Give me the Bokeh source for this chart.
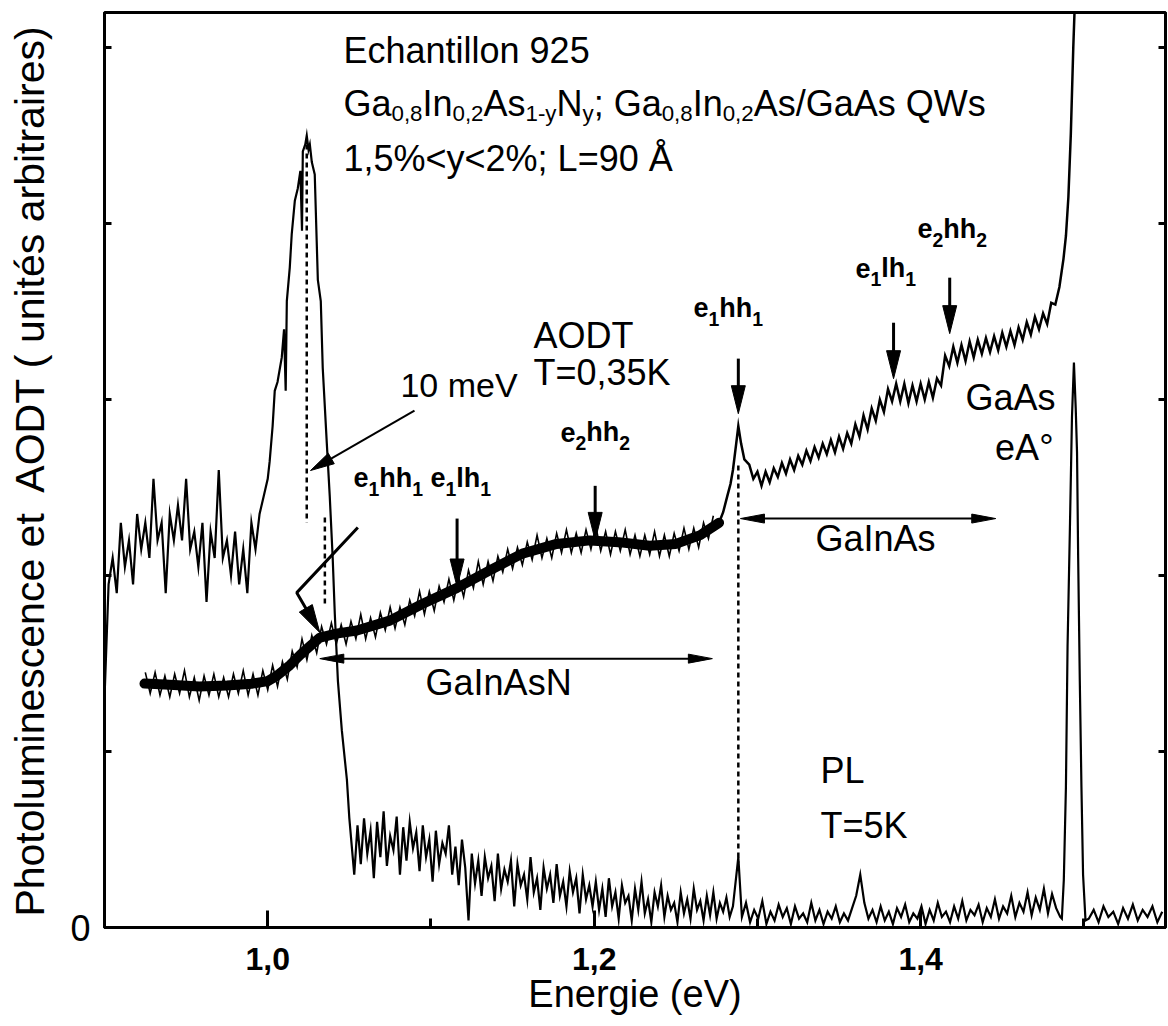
import math
from bokeh.plotting import figure
from bokeh.models import FixedTicker, LinearAxis, Label
from bokeh.embed import file_html
from bokeh.resources import INLINE

FONT = "Liberation Sans"

# ---------------- axes ----------------
x_ticks = [1.0, 1.2, 1.4]
x_minor_ticks = [0.9, 1.1, 1.3, 1.5]
x_tick_labels = ["1,0", "1,2", "1,4"]
y_ticks = [0, 1, 2, 3, 4, 5]
y_tick_labels = ["0", "", "", "", "", ""]
x_label = "Energie (eV)"
y_label = "Photoluminescence et\u00a0 AODT ( unités arbitraires)"

# ---------------- PL spectrum (T = 5 K) ----------------
pl_low_start, pl_low_step = 0.900, 0.0025
pl_low = [1.30, 1.95, 2.10, 1.90, 2.30, 2.05, 2.20, 1.95, 2.35, 2.15,
          2.30, 2.10, 2.55, 2.20, 2.30, 1.90, 2.35, 2.20, 2.40, 2.20,
          2.55, 2.15, 2.25, 2.05, 2.30, 1.85, 2.25, 2.10, 2.60, 2.10,
          2.20, 2.00, 2.25, 1.95, 2.15, 1.90, 2.30, 2.15, 2.35, 2.45]
pl_peak_E = [1.0000, 1.0012, 1.0030, 1.0043, 1.0060, 1.0086, 1.0100, 1.0110,
             1.0117, 1.0135, 1.0147, 1.0166, 1.0184, 1.0200, 1.0210, 1.0215,
             1.0230, 1.0239, 1.0250, 1.0258, 1.0270, 1.0288, 1.0300, 1.0307,
             1.0325, 1.0337, 1.0362, 1.0380, 1.0398, 1.0411, 1.0430, 1.0454,
             1.0485, 1.0500]
pl_peak_U = [2.55, 2.65, 2.85, 3.05, 3.10, 3.24, 3.40, 3.05,
             3.56, 3.75, 3.94, 4.13, 4.20, 4.30, 3.96, 4.41,
             4.45, 4.50, 4.42, 4.45, 4.35, 4.28, 3.90, 3.68,
             3.56, 3.18, 2.75, 2.45, 2.10, 1.78, 1.40, 1.12,
             0.84, 0.62]
pl_mid_start, pl_mid_step = 1.053, 0.002
pl_mid = [0.30, 0.58, 0.36, 0.62, 0.42, 0.55, 0.28, 0.60, 0.40, 0.66,
          0.35, 0.52, 0.44, 0.63, 0.30, 0.57, 0.38, 0.60, 0.45, 0.54,
          0.32, 0.58, 0.40, 0.50, 0.26, 0.55, 0.36, 0.48, 0.42, 0.58,
          0.30, 0.46, 0.24, 0.50, 0.34,
          0.04,
          0.42, 0.25, 0.38, 0.18, 0.40, 0.28, 0.35, 0.15, 0.42, 0.22,
          0.33, 0.26, 0.38, 0.12, 0.36, 0.24, 0.30, 0.16, 0.40, 0.20,
          0.28, 0.10, 0.34, 0.22, 0.30, 0.14, 0.36, 0.18, 0.26, 0.12,
          0.32, 0.20, 0.28, 0.08, 0.30, 0.16, 0.24, 0.12,
          0.26, 0.10, 0.22, 0.06, 0.28, 0.12, 0.20, 0.05, 0.24, 0.14,
          0.18, 0.04, 0.22, 0.10, 0.26, 0.08, 0.16, 0.03, 0.20, 0.12,
          0.24, 0.06, 0.18, 0.10, 0.14, 0.03, 0.20, 0.08, 0.16, 0.05,
          0.22, 0.10, 0.15, 0.04, 0.18, 0.07, 0.20, 0.05, 0.14, 0.09,
          0.17, 0.06,
          0.12]
pl_e1hh1_E = [1.2883]
pl_e1hh1_U = [0.40]
pl_high_start, pl_high_step = 1.2905, 0.0025
pl_high = [0.06, 0.14, 0.03, 0.10, 0.05, 0.15, 0.02, 0.09, 0.04, 0.13,
           0.06, 0.11, 0.02, 0.12, 0.05, 0.08, 0.03, 0.14, 0.04, 0.10,
           0.02, 0.09, 0.05, 0.12, 0.03, 0.08, 0.04, 0.11, 0.18, 0.30,
           0.14, 0.05, 0.10, 0.03, 0.12, 0.04, 0.09, 0.02, 0.11, 0.06,
           0.13, 0.03, 0.08, 0.05, 0.12, 0.02, 0.10, 0.04, 0.14, 0.06,
           0.09, 0.03, 0.12, 0.05, 0.15, 0.04, 0.10, 0.07, 0.13, 0.03,
           0.11, 0.06, 0.16, 0.05, 0.12, 0.08, 0.18, 0.06, 0.14, 0.09,
           0.20, 0.07, 0.17, 0.10, 0.22, 0.08, 0.19, 0.11, 0.06]
pl_gaas_E = [1.4865, 1.4877, 1.4890, 1.4900, 1.4915, 1.4927, 1.4939,
             1.4950, 1.4958, 1.4965, 1.4975, 1.4985, 1.4995, 1.5010]
pl_gaas_U = [0.05, 0.27, 0.80, 1.60, 2.30, 2.90, 3.21,
             2.95, 2.70, 2.10, 1.40, 0.80, 0.30, 0.04]
pl_tail_start, pl_tail_step = 1.503, 0.003
pl_tail = [0.05, 0.10, 0.03, 0.12, 0.06, 0.09, 0.02, 0.11,
           0.05, 0.13, 0.04, 0.10, 0.06, 0.12, 0.03, 0.09]

# ---------------- AODT spectrum (T = 0.35 K) ----------------
aodt_band_E = [0.9245, 0.940, 0.958, 0.975, 0.990, 1.000, 1.0055, 1.0135,
               1.020, 1.026, 1.032, 1.042, 1.0546, 1.0748, 1.095, 1.116,
               1.136, 1.156, 1.177, 1.1975, 1.215, 1.234, 1.250, 1.265, 1.2765]
aodt_band_U = [1.386, 1.38, 1.37, 1.375, 1.385, 1.40, 1.43, 1.49,
               1.55, 1.60, 1.648, 1.67, 1.688, 1.744, 1.84, 1.93,
               2.03, 2.125, 2.18, 2.20, 2.19, 2.17, 2.18, 2.23, 2.30]
aodt_hair_start, aodt_hair_step = 0.925, 0.003
aodt_hair = [1.45, 1.33, 1.45, 1.32, 1.43, 1.31, 1.44, 1.33, 1.46, 1.31,
             1.42, 1.29, 1.43, 1.32, 1.44, 1.31, 1.42, 1.31, 1.44, 1.33,
             1.46, 1.32, 1.44, 1.32, 1.46, 1.35, 1.49, 1.37, 1.51, 1.41,
             1.57, 1.48, 1.64, 1.52, 1.66, 1.56, 1.71, 1.61, 1.73, 1.61,
             1.72, 1.61, 1.74, 1.64, 1.78, 1.64, 1.76, 1.65, 1.79, 1.69,
             1.82, 1.70, 1.82, 1.72, 1.86, 1.77, 1.91, 1.78, 1.91, 1.80,
             1.94, 1.85, 1.98, 1.86, 1.99, 1.88, 2.03, 1.93, 2.08, 1.95,
             2.08, 1.97, 2.11, 2.02, 2.15, 2.04, 2.16, 2.06, 2.19, 2.09,
             2.23, 2.10, 2.21, 2.10, 2.24, 2.13, 2.26, 2.13, 2.24, 2.13,
             2.26, 2.15, 2.28, 2.14, 2.25, 2.12, 2.25, 2.14, 2.26, 2.12,
             2.23, 2.11, 2.23, 2.12, 2.25, 2.11, 2.23, 2.11, 2.24, 2.14,
             2.27, 2.15, 2.27, 2.16, 2.30, 2.21, 2.34]
aodt_peak_E = [1.2765, 1.2790, 1.2815, 1.2835, 1.2850, 1.2870, 1.2883,
               1.2900, 1.2920]
aodt_peak_U = [2.30, 2.36, 2.45, 2.52, 2.60, 2.75, 2.85, 2.75, 2.66]
aodt_zig_start, aodt_zig_step = 1.295, 0.0025
aodt_zig = [2.63, 2.55, 2.59, 2.51, 2.59, 2.53, 2.61, 2.56, 2.64, 2.58,
            2.66, 2.60, 2.68, 2.63, 2.71, 2.65, 2.73, 2.67, 2.75, 2.69,
            2.77, 2.70, 2.79, 2.72, 2.81, 2.75, 2.86, 2.79, 2.91, 2.83,
            2.95, 2.88, 3.00, 2.93, 3.06, 2.99, 3.09, 2.99, 3.09, 2.98,
            3.08, 2.99, 3.09, 3.00, 3.10, 3.01, 3.12, 3.08, 3.25, 3.19,
            3.30, 3.21, 3.31, 3.22, 3.33, 3.24, 3.34, 3.26, 3.35, 3.27,
            3.36, 3.28, 3.38, 3.30, 3.39, 3.31, 3.41, 3.34, 3.44, 3.37,
            3.47, 3.40, 3.49, 3.43, 3.55, 3.54, 3.64]
aodt_edge_E = [1.4875, 1.4890, 1.4905, 1.4920, 1.4935, 1.4950]
aodt_edge_U = [3.80, 3.93, 4.15, 4.51, 5.00, 5.40]

# transition energies marked by arrows
arrow_E = [1.116, 1.2006, 1.2883, 1.3834, 1.4178]


def grid(start, step, vals):
    return [round(start + i * step, 5) for i in range(len(vals))]


pl_E = (grid(pl_low_start, pl_low_step, pl_low) + pl_peak_E
        + grid(pl_mid_start, pl_mid_step, pl_mid) + pl_e1hh1_E
        + grid(pl_high_start, pl_high_step, pl_high) + pl_gaas_E
        + grid(pl_tail_start, pl_tail_step, pl_tail))
pl_U = pl_low + pl_peak_U + pl_mid + pl_e1hh1_U + pl_high + pl_gaas_U + pl_tail

aodt_thin_E = aodt_peak_E + grid(aodt_zig_start, aodt_zig_step, aodt_zig) + aodt_edge_E
aodt_thin_U = aodt_peak_U + aodt_zig + aodt_edge_U

# ---------------- figure ----------------
p = figure(width=1168, height=1026, x_range=(0.9, 1.55), y_range=(0, 5.2),
           output_backend="svg", toolbar_location=None,
           min_border_left=104, min_border_right=3, min_border_top=12,
           min_border_bottom=99)
p.grid.visible = False
p.outline_line_color = "black"
p.outline_line_width = 3
p.background_fill_color = "white"
p.border_fill_color = "white"

xa = p.xaxis[0]
xa.ticker = FixedTicker(ticks=x_ticks, minor_ticks=x_minor_ticks)
xa.major_label_overrides = dict(zip(x_ticks, x_tick_labels))
xa.major_tick_in = 17
xa.major_tick_out = 0
xa.minor_tick_in = 9
xa.minor_tick_out = 0
xa.major_tick_line_width = 3
xa.minor_tick_line_width = 3
xa.axis_line_width = 3
xa.major_label_text_font = FONT
xa.major_label_text_font_size = "32px"
xa.major_label_text_font_style = "bold"
xa.major_label_text_color = "black"
xa.major_label_standoff = 20
xa.axis_label = x_label
xa.axis_label_text_font = FONT
xa.axis_label_text_font_size = "38px"
xa.axis_label_text_font_style = "normal"
xa.axis_label_text_color = "black"
xa.axis_label_standoff = 0

ya = p.yaxis[0]
ya.ticker = FixedTicker(ticks=y_ticks)
ya.major_label_overrides = dict(zip(y_ticks, y_tick_labels))
ya.major_tick_in = 7
ya.major_tick_out = 0
ya.minor_tick_line_color = None
ya.major_tick_line_width = 3
ya.axis_line_width = 3
ya.major_label_text_font = FONT
ya.major_label_text_font_size = "36px"
ya.major_label_text_color = "black"
ya.major_label_standoff = 14
ya.axis_label = y_label
ya.axis_label_text_font = FONT
ya.axis_label_text_font_size = "41px"
ya.axis_label_text_font_style = "normal"
ya.axis_label_text_color = "black"
ya.axis_label_standoff = 14

ra = LinearAxis(ticker=FixedTicker(ticks=y_ticks),
                major_label_overrides={t: "" for t in y_ticks},
                major_label_text_font_size="1px", major_label_standoff=0,
                major_tick_in=7, major_tick_out=0, major_tick_line_width=3,
                minor_tick_line_color=None, axis_line_width=3)
p.add_layout(ra, "right")

# ---------------- curves ----------------
p.line(aodt_band_E, aodt_band_U, line_color="black", line_width=10,
       line_join="round", line_cap="round")
p.line(grid(aodt_hair_start, aodt_hair_step, aodt_hair), aodt_hair,
       line_color="black", line_width=1.6, line_join="miter")
p.line(aodt_thin_E, aodt_thin_U, line_color="black", line_width=2.5,
       line_join="miter")
p.line(pl_E, pl_U, line_color="black", line_width=2.2, line_join="miter")

# ---------------- annotation helpers ----------------
SX = 1061 / 0.65
SY = 915 / 5.2
head_xs, head_ys = [], []


def add_head(xt, yt, xf, yf, L, W):
    dx = (xt - xf) * SX
    dy = (yt - yf) * SY
    n = math.hypot(dx, dy)
    ux, uy = dx / n, dy / n
    bx, by = -ux * L, -uy * L
    qx, qy = -uy, ux
    pts = [(0, 0), (bx + qx * W / 2, by + qy * W / 2), (bx - qx * W / 2, by - qy * W / 2)]
    head_xs.append([xt + a / SX for a, b in pts])
    head_ys.append([yt + b / SY for a, b in pts])
    return xt - ux * L * 0.7 / SX, yt - uy * L * 0.7 / SY


def arrow(xf, yf, xt, yt, L=28, W=14, lw=3):
    ex, ey = add_head(xt, yt, xf, yf, L, W)
    p.line([xf, ex], [yf, ey], line_color="black", line_width=lw)


def double_arrow(x0, x1, y, L=24, W=9, lw=2):
    ex0, _ = add_head(x0, y, x1, y, L, W)
    ex1, _ = add_head(x1, y, x0, y, L, W)
    p.line([ex0, ex1], [y, y], line_color="black", line_width=lw)


# down arrows at transitions
arrow_tops = [2.324, 2.51, 3.233, 3.437, 3.693]
arrow_tips = [1.935, 2.20, 2.92, 3.119, 3.375]
for e, t, b in zip(arrow_E, arrow_tops, arrow_tips):
    arrow(e, t, e, b)

# bent arrow for e1hh1 (GaInAsN)
bx = [1.0552, 1.0178, 1.0319]
by = [2.273, 1.903, 1.676]
ex, ey = add_head(bx[2], by[2], bx[1], by[1], 28, 15)
p.line([bx[0], bx[1], ex], [by[0], by[1], ey], line_color="black", line_width=3)

# 10 meV arrow
arrow(1.0899, 2.938, 1.0262, 2.597, L=24, W=12, lw=2)

# double arrows
double_arrow(1.0319, 1.2724, 1.528)
double_arrow(1.2896, 1.446, 2.324)

p.patches(head_xs, head_ys, fill_color="black", line_color="black", line_width=1)

# dotted lines
for e, y0, y1 in [(1.0239, 4.45, 2.30), (1.035, 2.33, 1.82), (1.2883, 2.625, 0.37)]:
    p.line([e, e], [y0, y1], line_color="black", line_width=2.5, line_dash="5 4")

# ---------------- texts ----------------
REG = {'G': .778, 'a': .556, 'I': .278, 'n': .556, 'A': .667, 's': .5, 'N': .722,
       ';': .278, ' ': .278, '/': .278, 'Q': .778, 'W': .944, '0': .556, '1': .556,
       '2': .556, '8': .556, ',': .278, '-': .333, 'y': .5}
BOLD = {'e': .556, 'h': .611, 'l': .278, '1': .556, '2': .556}
LIFT = 15  # px


def tw(s, size, bold):
    t = BOLD if bold else REG
    return sum(t.get(c, .556) for c in s) * size


def label(x, y, text, size=36, bold=False, align="left", baseline="alphabetic",
          xo=0.0, yo=0.0):
    p.add_layout(Label(x=x, y=y, x_offset=xo, y_offset=yo + LIFT, text=text,
                       text_font=FONT, text_font_size=f"{size}px",
                       text_font_style="bold" if bold else "normal",
                       text_align=align, text_baseline=baseline,
                       text_color="black"))


def rich(x, y, parts, size, bold=False, sub_scale=0.62, drop=10):
    off = 0.0
    for txt, kind in parts:
        fs = size if kind == "n" else round(size * sub_scale, 1)
        label(x, y, txt, fs, bold, xo=off, yo=0 if kind == "n" else -drop)
        off += tw(txt, fs, bold)


label(1.0464, 4.899, "Echantillon 925")
rich(1.0464, 4.598, [("Ga", "n"), ("0,8", "s"), ("In", "n"), ("0,2", "s"),
                     ("As", "n"), ("1-y", "s"), ("N", "n"), ("y", "s"),
                     ("; Ga", "n"), ("0,8", "s"), ("In", "n"), ("0,2", "s"),
                     ("As/GaAs QWs", "n")], 36)
label(1.0464, 4.285, "1,5%<y<2%; L=90 Å")
label(1.0813, 2.995, "10 meV", size=34)
label(1.1628, 3.279, "AODT")
label(1.1628, 3.069, "T=0,35K")
label(1.0967, 1.307, "GaInAsN")
label(1.3356, 2.125, "GaInAs")
label(1.4826, 2.927, "GaAs", align="right")
label(1.4814, 2.643, "eA°", align="right")
label(1.3386, 0.807, "PL")
label(1.3386, 0.494, "T=5K")

trans_labels = [(1.0525, 2.472, "e", "1", "hh"), (1.0997, 2.472, "e", "1", "lh"),
                (1.1794, 2.728, "e", "2", "hh"), (1.2608, 3.438, "e", "1", "hh"),
                (1.3601, 3.660, "e", "1", "lh"), (1.3981, 3.887, "e", "2", "hh")]
for (x, y, a, idx, b) in trans_labels:
    rich(x, y, [(a, "n"), (idx, "s"), (b, "n"), (idx, "s")], 27, bold=True,
         sub_scale=0.72, drop=11)

open("out.html", "w").write(file_html(p, INLINE))
